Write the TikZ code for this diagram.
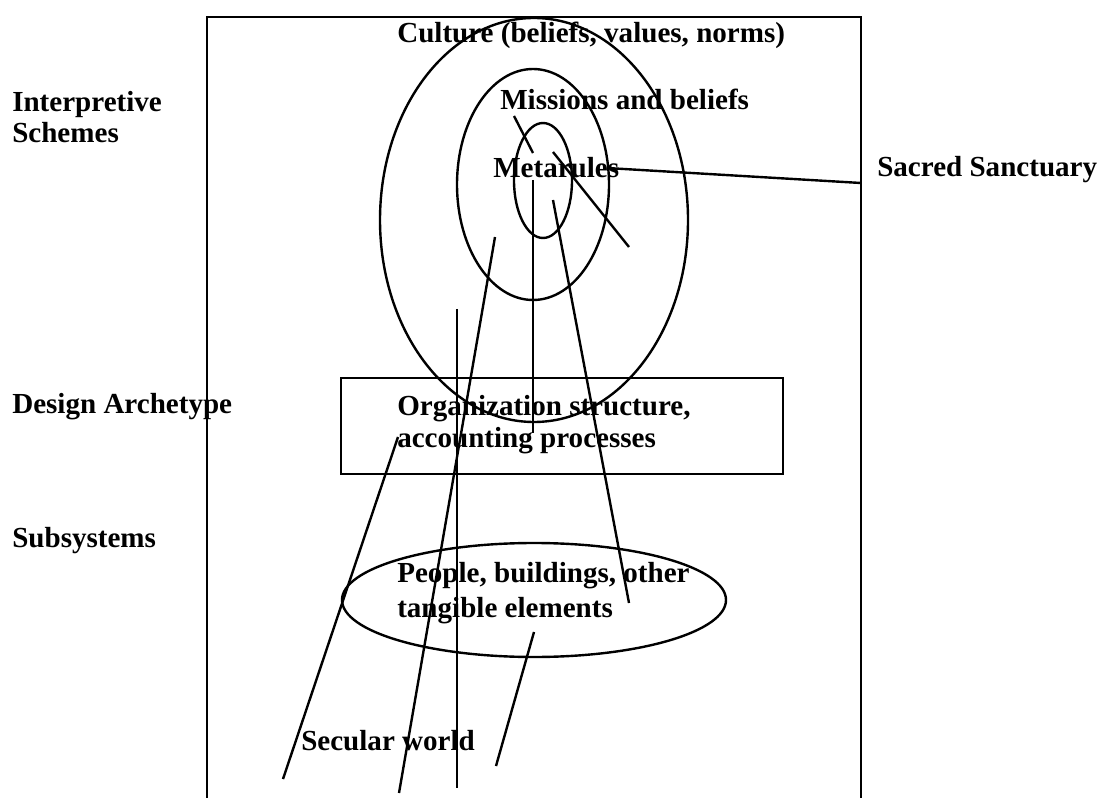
\documentclass[tikz,border=0pt]{standalone}
\usepackage{fontspec}
\setmainfont{Liberation Serif}
\begin{document}
\begin{tikzpicture}[x=0.75pt,y=-0.75pt,
  lbl/.style={anchor=base west, inner sep=0pt, font=\fontsize{21.8}{25}\selectfont\bfseries},
  ln/.style={line width=1.8pt, line cap=butt}]
\useasboundingbox (0,0) rectangle (1099,798);

% open frame around the organization
\coordinate (fbl) at (207,798);
\coordinate (ftl) at (207,17);
\coordinate (ftr) at (861,17);
\coordinate (fbr) at (861,798);
\draw[ln, line join=miter] (fbl) -- (ftl) -- (ftr) -- (fbr);

% concentric ellipses of the interpretive schemes
\coordinate (cOuter) at (534,220);
\coordinate (cMiddle) at (533,184.5);
\coordinate (cInner) at (543,180.5);
\draw[ln] (cOuter) ellipse [x radius=154, y radius=202];
\draw[ln] (cMiddle) ellipse [x radius=76, y radius=115.5];
\draw[ln] (cInner) ellipse [x radius=29, y radius=57.5];

% design archetype box and subsystems ellipse
\coordinate (boxA) at (341,378);
\coordinate (boxB) at (783,474);
\draw[ln] (boxA) rectangle (boxB);
\coordinate (cSub) at (534,600);
\draw[ln] (cSub) ellipse [x radius=192, y radius=57];

% labels
\node[lbl] (culture) at (397,43) {Culture (beliefs, values, norms)};
\node[lbl] (missions) at (500,110) {Missions and beliefs};
\node[lbl] (metarules) at (493,178) {Metarules};
\node[lbl] (sacred) at (877,177) {Sacred Sanctuary};
\node[lbl] (interp1) at (12,112) {Interpretive};
\node[lbl] (interp2) at (12,143) {Schemes};
\node[lbl] (design) at (12,413) {Design Archetype};
\node[lbl] (subsys) at (12,547) {Subsystems};
\node[lbl] (org1) at (397,415) {Organization structure,};
\node[lbl] (org2) at (397,447) {accounting processes};
\node[lbl] (ppl1) at (397,582) {People, buildings, other};
\node[lbl] (ppl2) at (397,617) {tangible elements};
\node[lbl] (secular) at (301,750) {Secular world};

% strokes linking the layers
\coordinate (a1) at (398,437);  \coordinate (a2) at (283,779);
\coordinate (b1) at (495,237);  \coordinate (b2) at (399,793);
\coordinate (c1) at (457,309);  \coordinate (c2) at (457,788);
\coordinate (d1) at (553,200);  \coordinate (d2) at (629,603);
\coordinate (e1) at (534,632);  \coordinate (e2) at (496,766);
\coordinate (f1) at (533,180);  \coordinate (f2) at (533,433);
\coordinate (g1) at (514,116);  \coordinate (g2) at (533,153);
\coordinate (h1) at (553,152);  \coordinate (h2) at (629,247);
\coordinate (s1) at (607,168);  \coordinate (s2) at (ftr |- 0,183);
\draw[ln] (a1) -- (a2);
\draw[ln] (b1) -- (b2);
\draw[ln] (c1) -- (c2);
\draw[ln] (d1) -- (d2);
\draw[ln] (e1) -- (e2);
\draw[ln] (f1) -- (f2);
\draw[ln] (g1) -- (g2);
\draw[ln] (h1) -- (h2);
\draw[ln] (s1) -- (s2);
\end{tikzpicture}
\end{document}
